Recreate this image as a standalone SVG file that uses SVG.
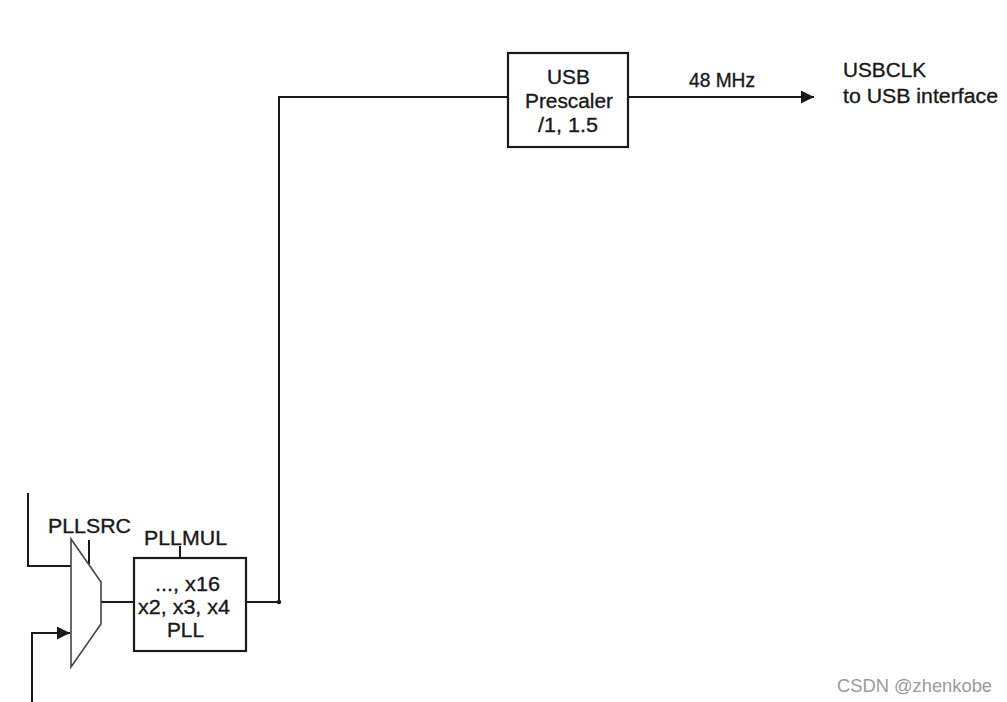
<svg xmlns="http://www.w3.org/2000/svg" width="1007" height="702" viewBox="0 0 1007 702">
  <style>
    .wire { fill: none; stroke: #1a1a1a; stroke-width: 2; }
    .box { fill: #ffffff; stroke: #1a1a1a; stroke-width: 2.2; }
    .mux { fill: #ffffff; stroke: #444444; stroke-width: 1.6; }
    .lbl { font-family: "Liberation Sans", Arial, sans-serif; font-size: 19.5px; fill: #1a1a1a; stroke: #1a1a1a; stroke-width: 0.35; }
    .mid { text-anchor: middle; }
    .wm { font-family: "Liberation Sans", Arial, sans-serif; font-size: 18px; fill: #9a9a9a; }
  </style>
  <defs>
    <marker id="arrow" viewBox="0 0 10 10" refX="10" refY="5" markerWidth="17" markerHeight="13" markerUnits="userSpaceOnUse" orient="auto">
      <path d="M0,0 L10,5 L0,10 Z" fill="#1a1a1a"/>
    </marker>
  </defs>
  <rect width="1007" height="702" fill="#ffffff"/>

  <g id="connectors">
    <!-- upper mux input -->
    <polyline class="wire" points="28,493 28,566 71,566"/>
    <!-- lower mux input -->
    <polyline class="wire" points="32,702 32,633 70,633" marker-end="url(#arrow)"/>
    <!-- mux to PLL -->
    <line class="wire" x1="101" y1="602" x2="134" y2="602"/>
    <!-- PLL output up to USB prescaler -->
    <polyline class="wire" points="246,602 279,602 279,97 508,97"/>
    <circle cx="279" cy="602" r="2.2" fill="#1a1a1a"/>
    <!-- prescaler output -->
    <line class="wire" x1="628" y1="97" x2="814" y2="97" marker-end="url(#arrow)"/>
    <!-- control ticks -->
    <line class="wire" x1="89" y1="540" x2="89" y2="564"/>
    <line class="wire" x1="180" y1="546" x2="180" y2="558"/>
  </g>

  <g id="pllsrc-mux">
    <polygon class="mux" points="71,539 101,582 101,624 71,667"/>
    <text class="lbl" x="48" y="533" textLength="83" lengthAdjust="spacingAndGlyphs">PLLSRC</text>
  </g>

  <g id="pll">
    <rect class="box" x="134" y="558" width="112" height="93"/>
    <text class="lbl" x="144" y="545" textLength="83" lengthAdjust="spacingAndGlyphs">PLLMUL</text>
    <text class="lbl" x="155" y="591" textLength="65" lengthAdjust="spacingAndGlyphs">..., x16</text>
    <text class="lbl" x="138" y="614" textLength="92" lengthAdjust="spacingAndGlyphs">x2, x3, x4</text>
    <text class="lbl" x="167" y="637" textLength="37" lengthAdjust="spacingAndGlyphs">PLL</text>
  </g>

  <g id="usb-prescaler">
    <rect class="box" x="508" y="53" width="120" height="94"/>
    <text class="lbl" x="547" y="84" textLength="43" lengthAdjust="spacingAndGlyphs">USB</text>
    <text class="lbl" x="525" y="108" textLength="88" lengthAdjust="spacingAndGlyphs">Prescaler</text>
    <text class="lbl" x="538" y="132" textLength="60" lengthAdjust="spacingAndGlyphs">/1, 1.5</text>
  </g>

  <g id="usbclk">
    <text class="lbl" x="689" y="87" font-size="17" textLength="66" lengthAdjust="spacingAndGlyphs">48 MHz</text>
    <text class="lbl" x="843" y="77" textLength="83" lengthAdjust="spacingAndGlyphs">USBCLK</text>
    <text class="lbl" x="843" y="103" textLength="155" lengthAdjust="spacingAndGlyphs">to USB interface</text>
  </g>

  <text class="wm" x="837" y="692" textLength="155" lengthAdjust="spacingAndGlyphs">CSDN @zhenkobe</text>
</svg>
